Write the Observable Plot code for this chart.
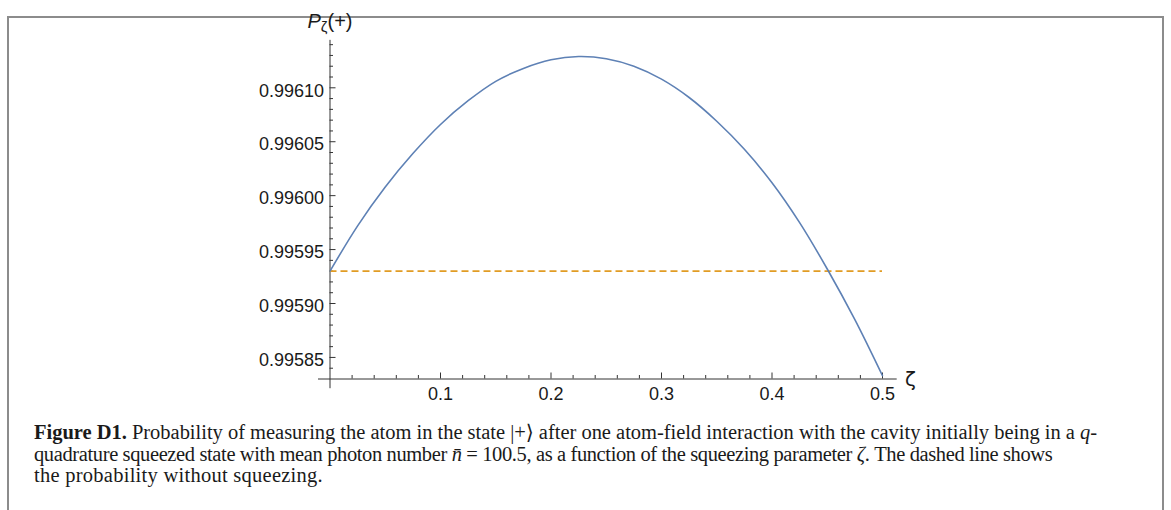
<!DOCTYPE html>
<html>
<head>
<meta charset="utf-8">
<script src="https://cdn.jsdelivr.net/npm/d3@7"></script>
<script src="https://cdn.jsdelivr.net/npm/@observablehq/plot@0.6"></script>
<style>
  html, body { margin: 0; padding: 0; background: #fff; width: 1171px; height: 510px; overflow: hidden; }
  #frame { position: absolute; left: 7px; top: 16px; width: 1157px; height: 520px; border: 2px solid #8c8c8c; box-sizing: border-box; }
  #chart { position: absolute; left: 0; top: 0; }
  #caption { position: absolute; left: 34px; top: 422px; font-family: "Liberation Serif", "DejaVu Serif", serif; font-size: 20.5px; line-height: 21.7px; color: #1a1a1a; white-space: nowrap; }
  #caption .ln { display: block; width: max-content; }
</style>
</head>
<body>
<div id="frame"></div>
<div id="chart"></div>
<div id="caption">
  <span class="ln" id="l1"><b>Figure D1.</b> Probability of measuring the atom in the state |+⟩ after one atom-field interaction with the cavity initially being in a <i>q</i>-</span>
  <span class="ln" id="l2">quadrature squeezed state with mean photon number <i>n̄</i> = 100.5, as a function of the squeezing parameter <i>ζ</i>. The dashed line shows</span>
  <span class="ln" id="l3">the probability without squeezing.</span>
</div>
<script>
// ---- data ----
const zeta = [0, 0.025, 0.05, 0.075, 0.1, 0.125, 0.15, 0.175, 0.2, 0.225, 0.25, 0.275, 0.3, 0.325, 0.35, 0.375, 0.4, 0.425, 0.45, 0.475, 0.5];
const prob = [0.995930, 0.995972, 0.996008, 0.996039, 0.996066, 0.996088, 0.996106, 0.996118, 0.996126, 0.996129, 0.996127, 0.996120, 0.996108, 0.996091, 0.996069, 0.996043, 0.996012, 0.995975, 0.995932, 0.995885, 0.995833];
const noSqueeze = 0.99593;          // dashed reference level
const xTicks = [0.1, 0.2, 0.3, 0.4, 0.5];
const xMinor = [0.02, 0.04, 0.06, 0.08, 0.12, 0.14, 0.16, 0.18, 0.22, 0.24, 0.26, 0.28, 0.32, 0.34, 0.36, 0.38, 0.42, 0.44, 0.46, 0.48];
const yTicks = [0.99585, 0.99590, 0.99595, 0.99600, 0.99605, 0.99610];
const yMinor = [0.99584, 0.99586, 0.99587, 0.99588, 0.99589, 0.99591, 0.99592, 0.99593, 0.99594, 0.99596, 0.99597, 0.99598, 0.99599, 0.99601, 0.99602, 0.99603, 0.99604, 0.99606, 0.99607, 0.99608, 0.99609, 0.99611, 0.99612, 0.99613, 0.99614];
const xDomain = [0, 0.5];
const yDomain = [0.99583, 0.99610];
const xAxisExtent = [-0.0104, 0.5133];
const yAxisExtent = [0.995821, 0.996144];

// ---- layout ----
const W = 1171, H = 400;
const mL = 329.5, mR = 289, mT = 87.3, mB = 21.5;
const plotW = W - mL - mR, plotH = H - mT - mB;
const axisColor = "#333333";
const sans = "Liberation Sans, Arial, sans-serif";

const curve = zeta.map((z, i) => ({z, p: prob[i]}));

const chart = Plot.plot({
  width: W, height: H,
  marginLeft: mL, marginRight: mR, marginTop: mT, marginBottom: mB,
  x: {domain: xDomain, axis: null},
  y: {domain: yDomain, axis: null},
  style: {overflow: "visible", background: "transparent"},
  marks: [
    Plot.ruleY([yDomain[0]], {x1: xAxisExtent[0], x2: xAxisExtent[1], stroke: axisColor, strokeWidth: 1}),
    Plot.ruleX([xDomain[0]], {y1: yAxisExtent[0], y2: yAxisExtent[1], stroke: axisColor, strokeWidth: 1}),
    Plot.tickX(xTicks, {x: d => d, insetTop: plotH - 6, stroke: axisColor, strokeWidth: 1}),
    Plot.tickX(xMinor, {x: d => d, insetTop: plotH - 3.5, stroke: axisColor, strokeWidth: 1}),
    Plot.tickY(yTicks, {y: d => d, insetRight: plotW - 6, stroke: axisColor, strokeWidth: 1}),
    Plot.tickY(yMinor, {y: d => d, insetRight: plotW - 3.5, stroke: axisColor, strokeWidth: 1}),
    Plot.text(xTicks, {x: d => d, y: yDomain[0], dy: 15, text: d => d.toFixed(1), fontSize: 18, fontFamily: sans, fill: "#1a1a1a"}),
    Plot.text(yTicks, {x: xDomain[0], y: d => d, dx: -6, dy: 3, textAnchor: "end", text: d => d.toFixed(5), fontSize: 18, fontFamily: sans, fill: "#1a1a1a"}),
    Plot.text(["ζ"], {x: xDomain[1], y: yDomain[0], dx: 28, dy: 1, text: d => d, fontSize: 20, fontFamily: "DejaVu Sans, sans-serif", fill: "#1a1a1a"}),
    Plot.ruleY([noSqueeze], {x1: xDomain[0], x2: xDomain[1], stroke: "#E19C24", strokeWidth: 1.6, strokeDasharray: "7,4"}),
    Plot.line(curve, {x: "z", y: "p", stroke: "#5E81B5", strokeWidth: 1.6, curve: "catmull-rom"})
  ]
});
document.getElementById("chart").appendChild(chart);

// y axis label  P_ζ(+)
const svg = d3.select(chart);
const x0 = chart.scale("x").apply(xDomain[0]);
const lab = svg.append("text")
  .attr("x", x0 - 22).attr("y", 28).attr("text-anchor", "start")
  .attr("font-family", sans).attr("font-size", 20).attr("fill", "#1a1a1a");
lab.append("tspan").attr("font-style", "italic").text("P");
lab.append("tspan").attr("font-size", 15).attr("dy", 4).text("ζ");
lab.append("tspan").attr("dy", -4).text("(+)");

// fit caption lines to the reference line lengths
const targets = {l1: 1063, l2: 1018, l3: 289};
for (const id in targets) {
  const el = document.getElementById(id);
  const w = el.getBoundingClientRect().width;
  const n = el.textContent.length;
  el.style.letterSpacing = ((targets[id] - w) / n) + "px";
}
</script>
</body>
</html>
